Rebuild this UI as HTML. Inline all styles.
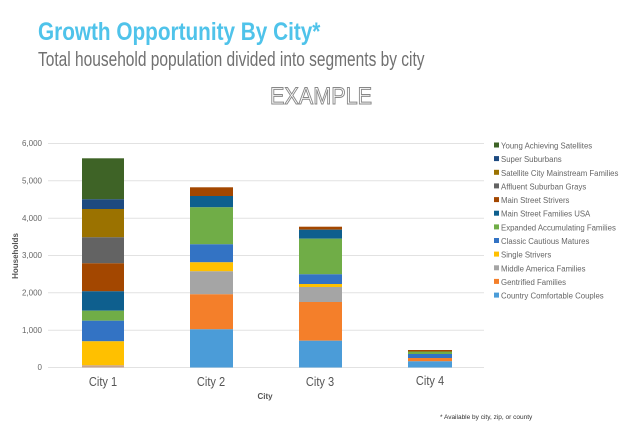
<!DOCTYPE html>
<html><head><meta charset="utf-8"><style>
body{margin:0;background:#fff;width:640px;height:430px;overflow:hidden;font-family:"Liberation Sans",sans-serif}
</style></head><body>
<svg width="640" height="430" xmlns="http://www.w3.org/2000/svg" font-family="Liberation Sans, sans-serif">
<text x="38" y="40" font-size="25" font-weight="bold" fill="#4fc3ea" transform="translate(38,0) scale(0.83,1) translate(-38,0)">Growth Opportunity By City*</text>
<text x="38" y="66" font-size="20" fill="#707070" transform="translate(38,0) scale(0.775,1) translate(-38,0)">Total household population divided into segments by city</text>
<text x="270" y="104" font-size="24" fill="none" stroke="#888" stroke-width="1" transform="translate(270,0) scale(0.9,1) translate(-270,0)">EXAMPLE</text>
<g stroke="#e2e2e2" stroke-width="1">
<line x1="48" x2="484" y1="143.5" y2="143.5"/><line x1="48" x2="484" y1="180.8" y2="180.8"/><line x1="48" x2="484" y1="218.2" y2="218.2"/><line x1="48" x2="484" y1="255.5" y2="255.5"/><line x1="48" x2="484" y1="292.8" y2="292.8"/><line x1="48" x2="484" y1="330.2" y2="330.2"/><line x1="48" x2="484" y1="367.5" y2="367.5"/>
</g>
<g font-size="8" fill="#666" text-anchor="end">
<text x="42" y="146">6,000</text><text x="42" y="183.5">5,000</text><text x="42" y="221">4,000</text><text x="42" y="258">3,000</text><text x="42" y="295.5">2,000</text><text x="42" y="333">1,000</text><text x="42" y="370">0</text>
</g>
<text x="0" y="0" font-size="8" font-weight="bold" fill="#555" text-anchor="middle" transform="translate(18,256) rotate(-90)">Households</text>
<g>
<rect x="82" y="158.3" width="42" height="41" fill="#3e6326"/>
<rect x="82" y="199.3" width="42" height="9.7" fill="#1d4a80"/>
<rect x="82" y="209" width="42" height="28.3" fill="#9b7200"/>
<rect x="82" y="237.3" width="42" height="26" fill="#636363"/>
<rect x="82" y="263.3" width="42" height="28" fill="#a34700"/>
<rect x="82" y="291.3" width="42" height="19.4" fill="#0e5f8e"/>
<rect x="82" y="310.7" width="42" height="10" fill="#70ad47"/>
<rect x="82" y="320.7" width="42" height="20.6" fill="#3373c4"/>
<rect x="82" y="341.3" width="42" height="24" fill="#ffc000"/>
<rect x="82" y="365.3" width="42" height="2.2" fill="#c9a48a"/>
</g>
<g>
<rect x="190" y="187.3" width="43" height="8.7" fill="#a34700"/>
<rect x="190" y="196" width="43" height="11.3" fill="#0e5f8e"/>
<rect x="190" y="207.3" width="43" height="37" fill="#70ad47"/>
<rect x="190" y="244.3" width="43" height="18" fill="#3373c4"/>
<rect x="190" y="262.3" width="43" height="9" fill="#ffc000"/>
<rect x="190" y="271.3" width="43" height="23" fill="#a5a5a5"/>
<rect x="190" y="294.3" width="43" height="35" fill="#f47f2a"/>
<rect x="190" y="329.3" width="43" height="38.2" fill="#4b9cd8"/>
</g>
<g>
<rect x="299" y="226.7" width="43" height="3" fill="#a34700"/>
<rect x="299" y="229.7" width="43" height="9" fill="#0e5f8e"/>
<rect x="299" y="238.7" width="43" height="35.6" fill="#70ad47"/>
<rect x="299" y="274.3" width="43" height="9.7" fill="#3373c4"/>
<rect x="299" y="284" width="43" height="3" fill="#ffc000"/>
<rect x="299" y="287" width="43" height="15" fill="#a5a5a5"/>
<rect x="299" y="302" width="43" height="38.7" fill="#f47f2a"/>
<rect x="299" y="340.7" width="43" height="26.8" fill="#4b9cd8"/>
</g>
<g>
<rect x="408" y="350" width="44" height="1.5" fill="#a34700"/>
<rect x="408" y="351.5" width="44" height="2.5" fill="#70ad47"/>
<rect x="408" y="354" width="44" height="4" fill="#3373c4"/>
<rect x="408" y="358" width="44" height="3.3" fill="#f47f2a"/>
<rect x="408" y="361.3" width="44" height="6.2" fill="#4b9cd8"/>
</g>
<g font-size="13" fill="#555" text-anchor="middle">
<text transform="translate(103,386) scale(0.85,1)">City 1</text>
<text transform="translate(211,386) scale(0.85,1)">City 2</text>
<text transform="translate(320,386) scale(0.85,1)">City 3</text>
<text transform="translate(430,385) scale(0.85,1)">City 4</text>
</g>
<text x="265" y="399" font-size="8" font-weight="bold" fill="#555" text-anchor="middle">City</text>
<g font-size="7.8" fill="#666">
<rect x="494" y="142.5" width="5" height="5" fill="#3e6326"/><text x="501" y="148.5">Young Achieving Satellites</text>
<rect x="494" y="156.1" width="5" height="5" fill="#1d4a80"/><text x="501" y="162.1">Super Suburbans</text>
<rect x="494" y="169.8" width="5" height="5" fill="#9b7200"/><text x="501" y="175.8">Satellite City Mainstream Families</text>
<rect x="494" y="183.4" width="5" height="5" fill="#636363"/><text x="501" y="189.4">Affluent Suburban Grays</text>
<rect x="494" y="197.1" width="5" height="5" fill="#a34700"/><text x="501" y="203.1">Main Street Strivers</text>
<rect x="494" y="210.7" width="5" height="5" fill="#0e5f8e"/><text x="501" y="216.7">Main Street Families USA</text>
<rect x="494" y="224.4" width="5" height="5" fill="#70ad47"/><text x="501" y="230.4">Expanded Accumulating Families</text>
<rect x="494" y="238" width="5" height="5" fill="#3373c4"/><text x="501" y="244">Classic Cautious Matures</text>
<rect x="494" y="251.6" width="5" height="5" fill="#ffc000"/><text x="501" y="257.6">Single Strivers</text>
<rect x="494" y="265.3" width="5" height="5" fill="#a5a5a5"/><text x="501" y="271.3">Middle America Families</text>
<rect x="494" y="278.9" width="5" height="5" fill="#f47f2a"/><text x="501" y="284.9">Gentrified Families</text>
<rect x="494" y="292.6" width="5" height="5" fill="#4b9cd8"/><text x="501" y="298.6">Country Comfortable Couples</text>
</g>
<text x="440" y="419" font-size="6.5" fill="#333">* Available by city, zip, or county</text>
</svg>
</body></html>
